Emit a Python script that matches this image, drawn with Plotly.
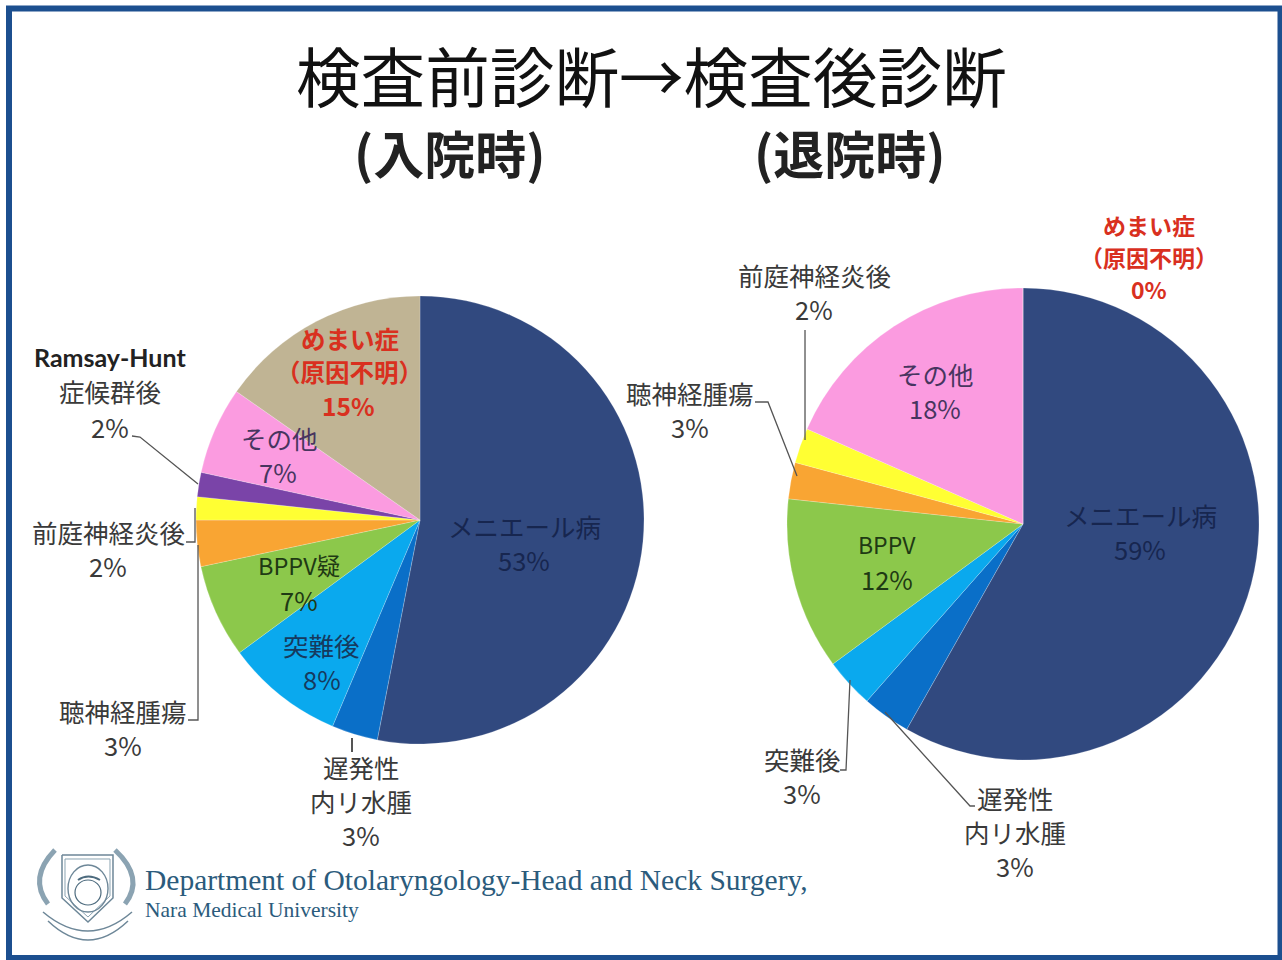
import plotly.graph_objects as go

W, H = 1282, 960

# Data
left_categories = ["メニエール病", "遅発性内リ水腫", "突難後", "BPPV疑", "聴神経腫瘍", "前庭神経炎後",
                   "Ramsay-Hunt症候群後", "その他", "めまい症(原因不明)"]
left_values = [53.06, 3.33, 8.53, 6.75, 3.33, 1.67, 1.75, 6.31, 15.28]
left_colors = ["#31497f", "#0a6fc8", "#0aa9ee", "#8cc84b", "#f9a533", "#ffff33", "#7a44a8", "#fb9be0", "#c0b494"]
right_categories = ["メニエール病", "遅発性内リ水腫", "突難後", "BPPV", "聴神経腫瘍", "前庭神経炎後", "その他",
                    "めまい症(原因不明)"]
right_values = [58.2, 3.3, 3.4, 11.8, 2.5, 2.4, 18.4, 0]
right_colors = ["#31497f", "#0a6fc8", "#0aa9ee", "#8cc84b", "#f9a533", "#ffff33", "#fb9be0", "#c0b494"]

TXT = "#3a3a3a"
NAVY_TXT = "#17264f"
GREEN_TXT = "#1f3a14"
PINK_TXT = "#47355f"
BLUE_TXT = "#163a5e"
CJK = "Noto Sans CJK JP"
RED = "#d9301f"
SERIF_C = "#2b5b7c"


def px(x):
    return x / W


def py(y):
    return 1 - y / H


def dom(cx, cy, r):
    return dict(x=[px(cx - r), px(cx + r)], y=[py(cy + r), py(cy - r)])


def pie(labels, values, colors, domain):
    return go.Pie(labels=labels, values=values, sort=False, direction="clockwise", rotation=0,
                  textinfo="none", hoverinfo="label+percent", showlegend=False, domain=domain,
                  marker=dict(colors=colors, line=dict(color="rgba(255,255,255,0.35)", width=0.6)))


fig = go.Figure([
    pie(left_categories, left_values, left_colors, dom(420, 520, 224)),
    pie(right_categories, right_values, right_colors, dom(1023, 524, 236)),
])


def note(x, y, text, size=25.5, color=TXT, font=CJK, bold=False, anchor="center"):
    t = f"<b>{text}</b>" if bold else text
    fig.add_annotation(x=px(x), y=py(y), xref="paper", yref="paper", text=t, showarrow=False,
                       xanchor=anchor, yanchor="middle", font=dict(size=size, color=color, family=font))


# Titles
note(651, 74, "検査前診断→検査後診断", size=64.6, color="#111111")
note(450, 152, "(入院時)", size=51, color="#222222", bold=True)
note(850, 152, "(退院時)", size=51, color="#222222", bold=True)

# Left pie labels
note(524, 525, "メニエール病", color=NAVY_TXT)
note(524, 559, "53%", color=NAVY_TXT)
note(350, 338, "めまい症", 24.5, RED, bold=True)
note(349, 372, "（原因不明）", 24.5, RED, bold=True)
note(348, 406, "15%", 24.5, RED, bold=True)
note(279, 437, "その他", color=PINK_TXT)
note(278, 471, "7%", color=PINK_TXT)
note(299, 565, "BPPV疑", 23.5, GREEN_TXT)
note(299, 599, "7%", color=GREEN_TXT)
note(322, 644, "突難後", color=BLUE_TXT)
note(322, 678, "8%", color=BLUE_TXT)
note(110, 357, "Ramsay-Hunt", 25, "#222222", "Lato", True)
note(110, 391, "症候群後")
note(110, 426, "2%")
note(108, 531, "前庭神経炎後")
note(108, 565, "2%")
note(123, 710, "聴神経腫瘍")
note(123, 744, "3%")
note(361, 766, "遅発性")
note(361, 800, "内リ水腫")
note(361, 834, "3%")

# Right pie labels
note(1140, 514, "メニエール病", color=NAVY_TXT)
note(1140, 548, "59%", color=NAVY_TXT)
note(935, 373, "その他", color=PINK_TXT)
note(935, 407, "18%", color=PINK_TXT)
note(887, 544, "BPPV", 23, GREEN_TXT)
note(887, 578, "12%", color=GREEN_TXT)
note(1149, 225, "めまい症", 23, RED, bold=True)
note(1149, 257, "（原因不明）", 23, RED, bold=True)
note(1149, 289, "0%", 23, RED, bold=True)
note(814, 274, "前庭神経炎後")
note(814, 308, "2%")
note(690, 392, "聴神経腫瘍")
note(690, 426, "3%")
note(802, 758, "突難後")
note(802, 792, "3%")
note(1015, 797, "遅発性")
note(1015, 831, "内リ水腫")
note(1015, 865, "3%")

# Footer
note(143, 880, "Department of Otolaryngology-Head and Neck Surgery,", 29.5, SERIF_C, "Liberation Serif", anchor="left")
note(143, 910, "Nara Medical University", 21.5, SERIF_C, "Liberation Serif", anchor="left")

shapes = []


def line(points, color="#555555", width=1.3):
    d = "M " + " L ".join(f"{px(x):.5f},{py(y):.5f}" for x, y in points)
    shapes.append(dict(type="path", path=d, xref="paper", yref="paper",
                       line=dict(color=color, width=width)))


def curve(p0, c, p1, color, width):
    d = (f"M {px(p0[0]):.5f},{py(p0[1]):.5f} Q {px(c[0]):.5f},{py(c[1]):.5f} "
         f"{px(p1[0]):.5f},{py(p1[1]):.5f}")
    shapes.append(dict(type="path", path=d, xref="paper", yref="paper", line=dict(color=color, width=width)))


# Leader lines
line([(132, 436), (140, 437), (198, 484)])
line([(186, 542), (195, 542), (195, 508)])
line([(188, 720), (198, 720), (198, 545)])
line([(352, 738), (352, 752)], width=2)
line([(805, 330), (805, 440)])
line([(755, 402), (768, 402), (797, 476)])
line([(840, 770), (846, 770), (850, 680)])
line([(885, 712), (970, 806), (975, 806)])

# Frame
shapes.append(dict(type="rect", xref="paper", yref="paper", x0=px(9), x1=px(1280.5), y0=py(958), y1=py(8.5),
                   line=dict(color="#1c4f8f", width=6), fillcolor="rgba(0,0,0,0)"))


# Crest (drawn outline)
def oval(x0, y0, x1, y1, color="#6f8a9a", width=1.4):
    shapes.append(dict(type="circle", xref="paper", yref="paper", x0=px(x0), x1=px(x1), y0=py(y1), y1=py(y0),
                       line=dict(color=color, width=width)))


C1, C2, C3 = "#6d8798", "#8ba3b2", "#4d6b7e"
line([(62, 855), (113, 855), (113, 898), (88, 922), (62, 898), (62, 855)], C1, 1.5)
line([(65, 859), (110, 859), (110, 896), (88, 917), (65, 896), (65, 859)], C2, 1)
oval(68, 865, 108, 912, C1, 1.4)
oval(75, 880, 101, 905, C3, 1.2)
curve((78, 880), (88, 873), (100, 880), C3, 2)
curve((43, 912), (88, 950), (132, 912), C1, 1.5)
curve((48, 921), (88, 959), (128, 921), C1, 1.5)
curve((55, 850), (28, 878), (48, 904), C2, 5)
curve((115, 850), (145, 878), (125, 904), C2, 5)

fig.update_layout(width=W, height=H, margin=dict(l=0, r=0, t=0, b=0), paper_bgcolor="#ffffff",
                  plot_bgcolor="#ffffff", shapes=shapes, font=dict(family=CJK))
fig.write_html("out.html", post_script="document.body.style.margin='0';window.dispatchEvent(new Event('resize'));",
               config={"displayModeBar": False})
